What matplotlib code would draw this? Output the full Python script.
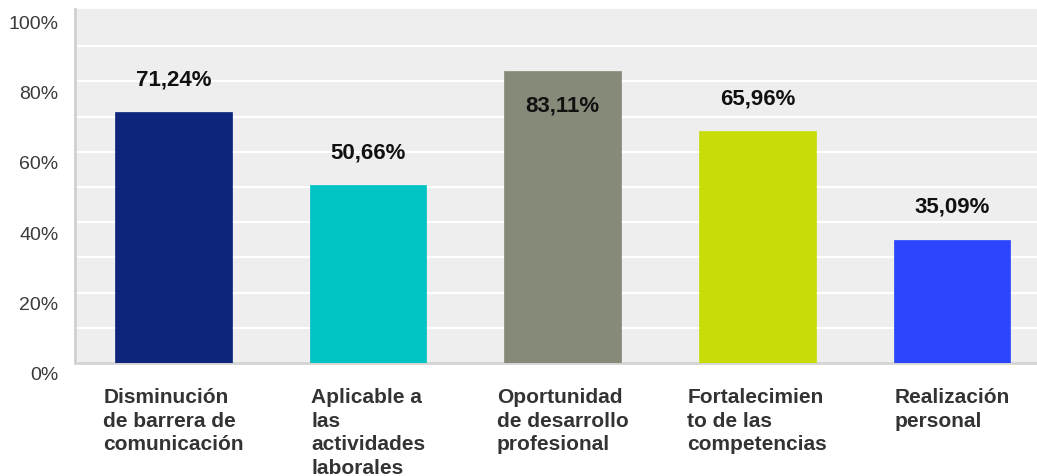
import matplotlib
matplotlib.use("Agg")
import matplotlib.pyplot as plt
import matplotlib.transforms as mtransforms

categories = ["Disminución\nde barrera de\ncomunicación",
              "Aplicable a\nlas\nactividades\nlaborales",
              "Oportunidad\nde desarrollo\nprofesional",
              "Fortalecimien\nto de las\ncompetencias",
              "Realización\npersonal"]
values = [71.24, 50.66, 83.11, 65.96, 35.09]
value_labels = ["71,24%", "50,66%", "83,11%", "65,96%", "35,09%"]
colors = ["#0E257C", "#00C3C3", "#868A78", "#C8DC0A", "#2B45FF"]
yticks = [0, 20, 40, 60, 80, 100]
ytick_labels = ["0%", "20%", "40%", "60%", "80%", "100%"]

plt.rcParams['font.family'] = ['Liberation Sans', 'DejaVu Sans']

fig = plt.figure(figsize=(10.37, 4.77), dpi=100)
ax = fig.add_axes([75/1037, (477-364)/477, 962/1037, 354/477])
ax.set_facecolor("#EEEEEE")

x = list(range(len(values)))
ax.bar(x, values, width=0.60, color=colors, edgecolor=colors, linewidth=0.5, zorder=3)

ax.set_xlim(-0.506, 4.437)
ax.set_ylim(0, 100.6)

# gridlines every 10%
for g in range(10, 100, 10):
    ax.axhline(g, color="white", linewidth=1.6, zorder=1)

ax.set_yticks(yticks)
ax.set_yticklabels(ytick_labels, fontsize=14, color="#3A3A3A")
ax.tick_params(axis='y', length=0, pad=12)
offset = mtransforms.ScaledTranslation(0, -10/100, fig.dpi_scale_trans)
for lab in ax.get_yticklabels():
    lab.set_transform(lab.get_transform() + offset)
ax.set_xticks([])

for s in ["top", "right"]:
    ax.spines[s].set_visible(False)
ax.spines["left"].set_color("#D0D0D0")
ax.spines["left"].set_linewidth(2)
ax.spines["bottom"].set_color("#D4D4D4")
ax.spines["bottom"].set_linewidth(2)

for xi, v, lab in zip(x, values, value_labels):
    y = v + 9.4 if v + 18 < 100 else v - 9.9
    ax.text(xi, y, lab, ha='center', va='center', fontsize=16,
            fontweight='bold', color="#111111", zorder=4)

trans = mtransforms.blended_transform_factory(ax.transData, ax.transAxes)
for xi, cat in zip(x, categories):
    ax.text(xi, -0.068, cat, ha='center', va='top', multialignment='left',
            fontsize=15, fontweight='bold', color="#333333",
            linespacing=1.3, transform=trans, clip_on=False)

fig.savefig("out.png", dpi=100, facecolor="white")
